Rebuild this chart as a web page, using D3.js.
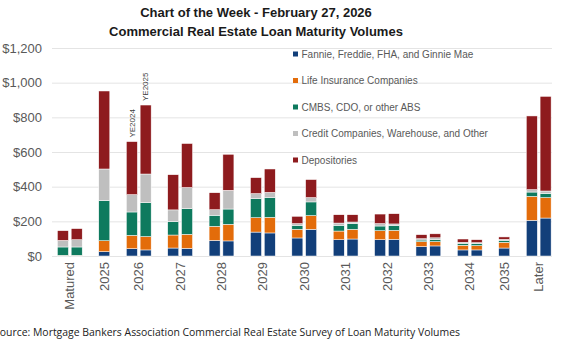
<!DOCTYPE html>
<html>
<head>
<meta charset="utf-8">
<script src="https://cdn.jsdelivr.net/npm/d3@7"></script>
<style>
  body { margin: 0; background: #fff; }
  svg { display: block; }
</style>
</head>
<body>
<div id="chart"></div>
<script>
// Categories on the x axis, and which survey vintage each bar belongs to
const categories = [ 'Matured', '2025', '2026', '2027', '2028', '2029', '2030',
                     '2031', '2032', '2033', '2034', '2035', 'Later' ];
const barCategory = [ 'Matured', 'Matured', '2025', '2026', '2026', '2027', '2027',
                      '2028', '2028', '2029', '2029', '2030', '2030', '2031', '2031',
                      '2032', '2032', '2033', '2033', '2034', '2034', '2035', 'Later', 'Later' ];
const barVintage = [ 'YE2024', 'YE2025', 'YE2024', 'YE2024', 'YE2025', 'YE2024', 'YE2025',
                     'YE2024', 'YE2025', 'YE2024', 'YE2025', 'YE2024', 'YE2025', 'YE2024', 'YE2025',
                     'YE2024', 'YE2025', 'YE2024', 'YE2025', 'YE2024', 'YE2025', 'YE2025', 'YE2024', 'YE2025' ];

// Series values ($ billions), one per bar, bottom of the stack first
const seriesNames = [ 'Fannie, Freddie, FHA, and Ginnie Mae', 'Life Insurance Companies',
                      'CMBS, CDO, or other ABS', 'Credit Companies, Warehouse, and Other', 'Depositories' ];
const fannie = [ 0, 0, 25, 42, 35, 46, 44, 90, 87, 138, 133, 104, 154, 94, 98, 94, 96, 54, 58, 35, 35, 46, 206, 219 ];
const life = [ 4, 4, 63, 77, 77, 75, 81, 81, 96, 83, 90, 50, 79, 50, 56, 52, 52, 29, 25, 27, 25, 33, 138, 118 ];
const cmbs = [ 48, 48, 231, 135, 196, 77, 148, 64, 88, 110, 114, 23, 79, 33, 33, 27, 27, 9, 11, 11, 11, 11, 25, 23 ];
const credit = [ 38, 42, 183, 100, 165, 68, 122, 32, 108, 29, 30, 10, 25, 13, 9, 14, 10, 8, 11, 6, 6, 6, 14, 15 ];
const depositories = [ 56, 64, 450, 306, 398, 203, 254, 98, 208, 92, 135, 42, 104, 48, 42, 55, 59, 23, 23, 19, 17, 14, 425, 546 ];

const yTicks = [ 0, 200, 400, 600, 800, 1000, 1200 ];
const vintageNotes = [ { category: '2026', vintage: 'YE2024' }, { category: '2026', vintage: 'YE2025' } ];

const titleLines = [ 'Chart of the Week - February 27, 2026', 'Commercial Real Estate Loan Maturity Volumes' ];
const sourceText = 'Source: Mortgage Bankers Association Commercial Real Estate Survey of Loan Maturity Volumes';

const bar_colors = [ '#123f7a', '#e36c0a', '#0e7a5e', '#bfbfbf', '#8e1b1e' ];
const labelStyle = 'font-size:13px; font-family:Liberation Sans, Arial, sans-serif; fill:#595959;';

const figure_width = 570;
const figure_height = 350;
const plot = { left: 52, right: 552, top: 48, bottom: 256 };

const svg = d3.select( 'div#chart' )
  .append( 'svg' )
    .attr( 'width', figure_width )
    .attr( 'height', figure_height );

// Build one row per bar, with series columns
const series_data = [ fannie, life, cmbs, credit, depositories ];
const rows = barCategory.map( function( c, i ) {
  const row = { key: c + '|' + barVintage[ i ], category: c, vintage: barVintage[ i ] };
  seriesNames.forEach( function( s, j ) { row[ s ] = series_data[ j ][ i ]; } );
  return row;
});

// Slots: bars of a category side by side, an empty slot between categories
const slots = [];
categories.forEach( function( c, ci ) {
  rows.filter( function( r ) { return r.category === c; } )
    .forEach( function( r ) { slots.push( r.key ); } );
  if ( ci < categories.length - 1 ) slots.push( 'gap' + ci );
});

const x = d3.scaleBand()
  .domain( slots )
  .range( [ 56, plot.right + 0.5 ] )
  .paddingInner( 0.2 )
  .paddingOuter( 0.1 );

const y = d3.scaleLinear()
  .domain( [ 0, 1200 ] )
  .range( [ plot.bottom, plot.top ] );

const color = d3.scaleOrdinal()
  .domain( seriesNames )
  .range( bar_colors );

// Y axis with gridlines
const yAxis = svg.append( 'g' )
  .attr( 'transform', 'translate(' + plot.left + ',0)' )
  .call( d3.axisLeft( y )
    .tickValues( yTicks )
    .tickSize( -( plot.right - plot.left ) )
    .tickPadding( 10 )
    .tickFormat( function( d ) { return '$' + d3.format( ',' )( d ); } ) );
yAxis.select( '.domain' ).remove();
yAxis.selectAll( '.tick line' ).attr( 'stroke', '#e4e4e4' );
yAxis.selectAll( '.tick text' ).attr( 'style', labelStyle );

// Stacked bars
const stacked = d3.stack().keys( seriesNames )( rows );
svg.append( 'g' )
  .selectAll( 'g' )
  .data( stacked )
  .enter()
  .append( 'g' )
    .attr( 'fill', function( d ) { return color( d.key ); } )
  .selectAll( 'rect' )
  .data( function( d ) { return d; } )
  .enter().append( 'rect' )
    .attr( 'x', function( d ) { return x( d.data.key ); } )
    .attr( 'y', function( d ) { return y( d[ 1 ] ); } )
    .attr( 'width', x.bandwidth() )
    .attr( 'height', function( d ) { return Math.max( 0, y( d[ 0 ] ) - y( d[ 1 ] ) ); } )
    .attr( 'stroke', '#fff' )
    .attr( 'stroke-width', 0.5 );

// Category labels, rotated, centred under their bars
function categoryCenter( c ) {
  const keys = rows.filter( function( r ) { return r.category === c; } );
  return d3.mean( keys, function( r ) { return x( r.key ) + x.bandwidth() / 2; } );
}
svg.append( 'g' )
  .selectAll( 'text' )
  .data( categories )
  .enter()
  .append( 'text' )
    .attr( 'transform', function( d ) { return 'translate(' + categoryCenter( d ) + ',' + ( plot.bottom + 6 ) + ') rotate(-90)'; } )
    .attr( 'text-anchor', 'end' )
    .attr( 'dy', '0.35em' )
    .attr( 'style', labelStyle )
    .text( function( d ) { return d; } );

// YE2024 / YE2025 notes above the 2026 bars
svg.append( 'g' )
  .selectAll( 'text' )
  .data( vintageNotes )
  .enter()
  .append( 'text' )
    .attr( 'transform', function( d ) {
      const r = rows.find( function( r ) { return r.category === d.category && r.vintage === d.vintage; } );
      const total = d3.sum( seriesNames, function( s ) { return r[ s ]; } );
      return 'translate(' + ( x( r.key ) + x.bandwidth() / 2 ) + ',' + ( y( total ) - 4 ) + ') rotate(-90)';
    })
    .attr( 'dy', '0.35em' )
    .attr( 'style', 'font-size:8px; font-family:Liberation Sans, Arial, sans-serif; fill:#404040;' )
    .text( function( d ) { return d.vintage; } );

// Legend
const legend = svg.append( 'g' )
  .selectAll( 'g' )
  .data( seriesNames )
  .enter()
  .append( 'g' )
    .attr( 'transform', function( d, i ) { return 'translate(293,' + ( 54 + i * 26.5 ) + ')'; } );
legend.append( 'rect' )
  .attr( 'x', 0 )
  .attr( 'y', -2.5 )
  .attr( 'width', 5 )
  .attr( 'height', 5 )
  .attr( 'fill', function( d ) { return color( d ); } );
legend.append( 'text' )
  .attr( 'x', 8.5 )
  .attr( 'dy', '0.35em' )
  .attr( 'style', 'font-size:10px; font-family:Liberation Sans, Arial, sans-serif; fill:#595959;' )
  .text( function( d ) { return d; } );

// Title
svg.append( 'g' )
  .selectAll( 'text' )
  .data( titleLines )
  .enter()
  .append( 'text' )
    .attr( 'x', 256 )
    .attr( 'y', function( d, i ) { return 17 + i * 19; } )
    .attr( 'text-anchor', 'middle' )
    .attr( 'style', 'font-size:13px; font-weight:bold; font-family:Liberation Sans, Arial, sans-serif; fill:#1a1a1a;' )
    .text( function( d ) { return d; } );

// Source line
svg.append( 'text' )
  .attr( 'x', -6 )
  .attr( 'y', 336 )
  .attr( 'textLength', 466 )
  .attr( 'lengthAdjust', 'spacingAndGlyphs' )
  .attr( 'style', 'font-size:11px; font-family:Open Sans, sans-serif; fill:#222;' )
  .text( sourceText );
</script>
</body>
</html>
